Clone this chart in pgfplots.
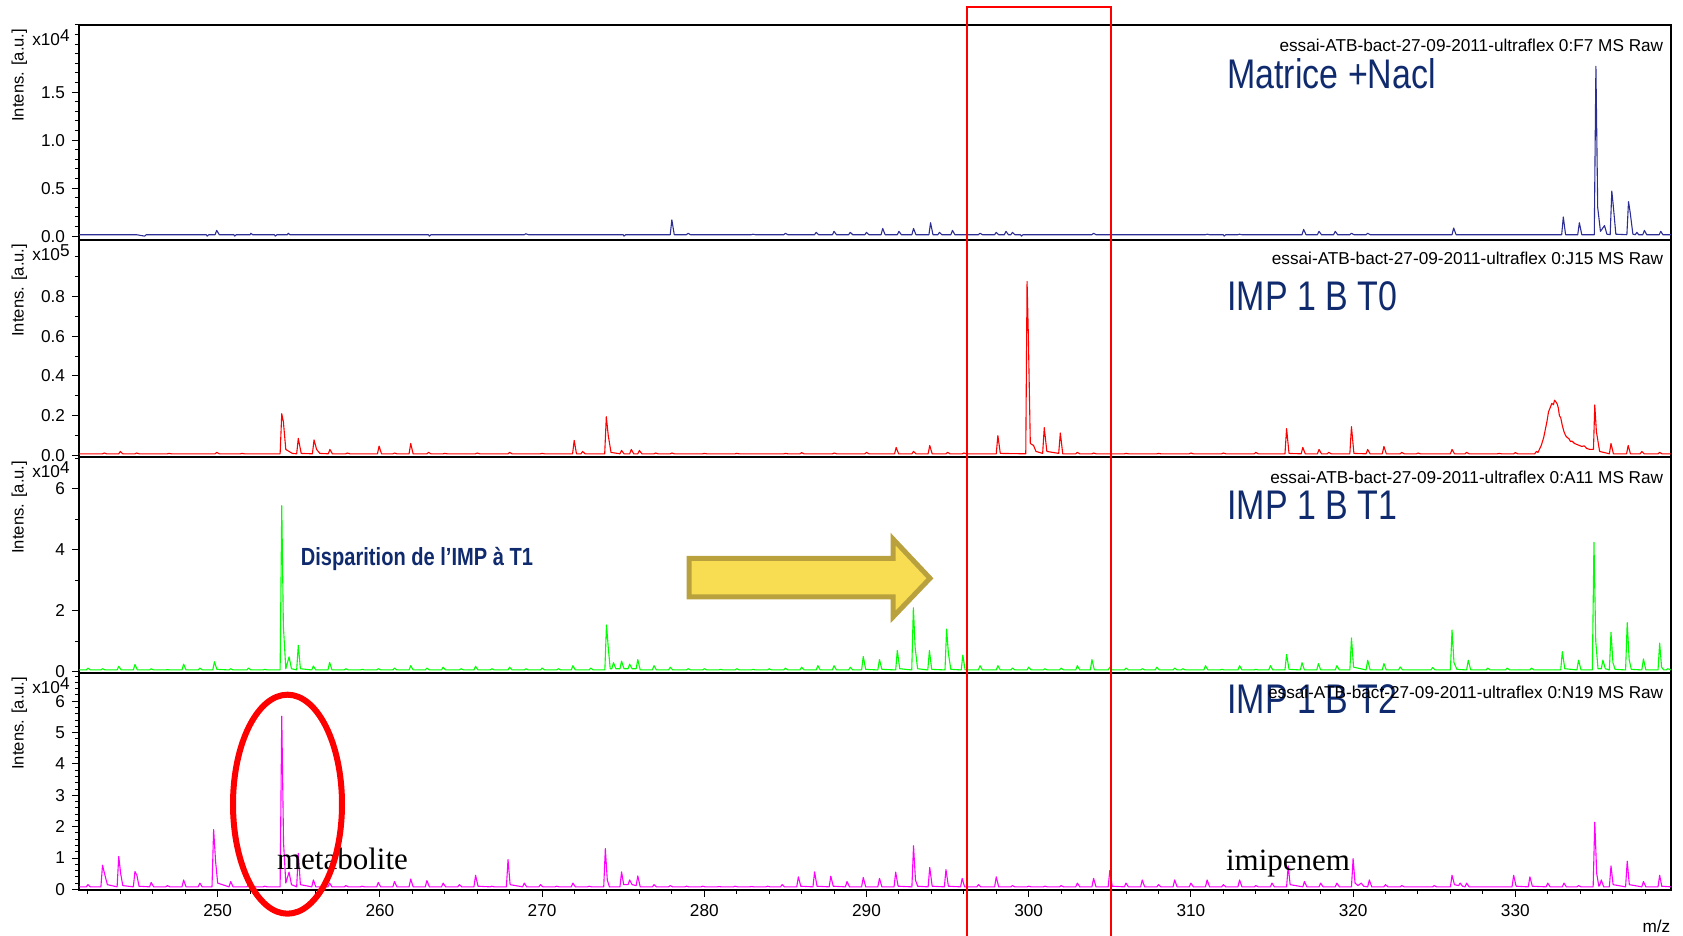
\documentclass[border=0pt]{standalone}
\usepackage{pgfplots}
\pgfplotsset{compat=1.18}
\usepackage{graphicx}
\usepackage{fontspec}
\setmainfont{Liberation Sans}
\newfontfamily\timesfont{Liberation Serif}

\definecolor{navyline}{RGB}{45,45,150}
\definecolor{lblue}{RGB}{16,42,110}
\definecolor{arrowfill}{RGB}{248,220,82}
\definecolor{arrowedge}{RGB}{185,162,62}
\definecolor{specred}{RGB}{255,0,0}
\definecolor{specgreen}{RGB}{0,255,0}
\definecolor{specpink}{RGB}{255,0,255}

\newcommand\tfont{\fontsize{8.6}{10}\selectfont}
\newcommand\panellabel[1]{\scalebox{0.82}[1]{\fontsize{20.7}{22}\selectfont #1}}

\pgfplotsset{
  msaxis/.style={
    scale only axis, width=796pt,
    xmin=241.45, xmax=339.6,
    clip=false,
    axis line style={black, line width=0.7pt},
    tick align=outside,
    ytick pos=left,
    major tick length=3.5pt, minor tick length=2pt,
    tick style={black, line width=0.5pt},
    tick label style={font=\tfont},
    /pgf/number format/assume math mode=true,
    xtick=\empty,
  },
  spec/.style={line width=0.55pt, line join=round, no markers},
}

\begin{document}
\begin{tikzpicture}

% panel 1 : matrice + NaCl (x10^4)
\begin{axis}[msaxis, at={(0,325pt)}, height=107.5pt,
  ymin=-0.04, ymax=2.2, ytick={0,0.5,1,1.5}, minor ytick={0.1,0.2,...,2.2},
  yticklabel style={/pgf/number format/fixed, /pgf/number format/fixed zerofill, /pgf/number format/precision=1}]
\addplot[spec, navyline] coordinates {
(241.45,.015)(245,.015)(245.5,0)(245.6,.015)
(249.3,.015)(249.35,0)(249.45,.015)(249.84,.015)(249.94,.06)(250.1,.015)
(251,.015)(251.05,0)(251.15,.015)(252,.015)(252.05,.03)(252.15,.015)
(253.5,.015)(253.55,0)(253.65,.015)(254.3,.015)(254.35,.03)(254.45,.015)
(263,.015)(263.05,0)(263.15,.015)(268.9,.015)(269,.025)(269.15,.015)
(275,.015)(275.05,0)(275.15,.015)
(277.9,.015)(278,.17)(278.15,.015)(278.9,.015)(279,.03)(279.15,.015)
(282.9,.015)(283,.02)(283.15,.015)(284.9,.015)(285,.03)(285.15,.015)
(286.8,.015)(286.9,.04)(287.05,.015)(287.9,.015)(288,.05)(288.15,.015)
(288.9,.015)(289,.04)(289.15,.015)(289.9,.015)(290,.04)(290.15,.015)
(290.9,.015)(291,.08)(291.15,.015)(291.9,.015)(292,.05)(292.15,.015)
(292.8,.015)(292.9,.08)(293.05,.015)(293.85,.015)(293.95,.14)(294.1,.015)
(294.4,.015)(294.5,.04)(294.65,.015)(295.2,.015)(295.3,.06)(295.45,.015)
(296.9,.015)(297,.03)(297.15,.015)(297.9,.015)(298,.04)(298.15,.015)
(298.5,.015)(298.6,.05)(298.75,.015)(298.9,.015)(299,.04)(299.15,.015)
(299.5,.015)(299.55,0)(299.65,.015)(303.9,.015)(304,.03)(304.15,.015)
(310.9,.015)(311,.02)(311.15,.015)(312,.015)(312.05,0)(312.15,.015)
(312.9,.015)(313,.02)(313.15,.015)
(316.85,.015)(316.95,.07)(317.1,.015)(317.8,.015)(317.9,.05)(318.05,.015)
(318.8,.015)(318.9,.05)(319.05,.015)(319.8,.015)(319.9,.03)(320.05,.015)
(320.8,.015)(320.9,.03)(321.05,.015)(326.1,.015)(326.2,.085)(326.35,.015)
(332.86,.015)(332.96,.2)(333.1,.015)(333.85,.015)(333.95,.14)(334.1,.015)
(334.87,.015)(334.97,1.77)(335.08,.3)(335.25,.05)(335.5,.11)(335.65,.02)
(335.85,.015)(335.95,.47)(336.05,.3)(336.2,.02)
(336.88,.015)(336.98,.36)(337.08,.25)(337.25,.02)
(337.4,.015)(337.5,.04)(337.6,.015)(337.86,.015)(337.96,.06)(338.1,.015)
(338.87,.015)(338.97,.05)(339.1,.015)(339.6,.015)
};
\end{axis}

% panel 2 : IMP 1 B T0 (x10^5)
\begin{axis}[msaxis, at={(0,216.5pt)}, height=108.5pt,
  ymin=-0.008, ymax=1.085, ytick={0,0.2,0.4,0.6,0.8}, minor ytick={0.1,0.3,0.5,0.7,0.9,1.0},
  yticklabel style={/pgf/number format/fixed, /pgf/number format/fixed zerofill, /pgf/number format/precision=1}]
\addplot[spec, specred] coordinates {
(241.45,.008)(242.9,.008)(243,.012)(243.15,.008)(243.9,.008)(244,.02)(244.15,.008)
(244.9,.008)(245,.012)(245.15,.008)(246.9,.008)(247,.01)(247.15,.008)
(249.84,.008)(249.94,.015)(250.1,.008)(251.4,.008)(251.5,.01)(251.65,.008)
(253.85,.008)(253.95,.21)(254.05,.17)(254.2,.03)(254.4,.02)(254.6,.01)
(254.87,.008)(254.97,.086)(255.15,.01)(255.84,.008)(255.94,.078)(256.1,.03)(256.3,.01)
(256.82,.008)(256.92,.03)(257.07,.008)(257.9,.008)(258,.012)(258.15,.008)
(259.85,.008)(259.95,.047)(260.1,.008)(260.8,.008)(260.9,.012)(261.05,.008)
(261.8,.008)(261.9,.06)(262.05,.008)(262.9,.008)(263,.015)(263.15,.008)
(263.9,.008)(264,.01)(264.15,.008)(265.9,.008)(266,.012)(266.15,.008)
(267.9,.008)(268,.015)(268.15,.008)(269.9,.008)(270,.01)(270.15,.008)
(271.88,.008)(271.98,.076)(272.12,.008)(272.4,.008)(272.5,.02)(272.65,.008)
(273.86,.008)(273.96,.195)(274.08,.1)(274.25,.015)
(274.8,.008)(274.9,.025)(275.05,.008)(275.4,.008)(275.5,.03)(275.65,.008)
(275.9,.008)(276,.025)(276.15,.008)(276.9,.008)(277,.012)(277.15,.008)
(277.9,.008)(278,.012)(278.15,.008)(279.9,.008)(280,.01)(280.15,.008)
(281.9,.008)(282,.01)(282.15,.008)(284.9,.008)(285,.01)(285.15,.008)
(285.9,.008)(286,.014)(286.15,.008)(287.9,.008)(288,.012)(288.15,.008)
(289.9,.008)(290,.015)(290.15,.008)(291.73,.008)(291.83,.04)(291.98,.008)
(292.8,.008)(292.9,.02)(293.05,.008)(293.8,.008)(293.9,.05)(294.05,.008)
(294.9,.008)(295,.015)(295.15,.008)(295.9,.008)(296,.012)(296.15,.008)
(298,.008)(298.1,.1)(298.25,.01)
(299.82,.008)(299.9,.876)(299.98,.6)(300.1,.06)(300.3,.05)(300.45,.02)
(300.86,.01)(300.96,.14)(301.12,.02)(301.85,.01)(301.95,.113)(302.1,.008)
(302.9,.008)(303,.015)(303.15,.008)(303.9,.008)(304,.012)(304.15,.008)
(305.9,.008)(306,.01)(306.15,.008)(307.9,.008)(308,.01)(308.15,.008)
(309.9,.008)(310,.012)(310.15,.008)(311.9,.008)(312,.012)(312.15,.008)
(313.9,.008)(314,.015)(314.15,.008)(315.8,.008)(315.9,.135)(316.05,.01)
(316.8,.008)(316.9,.04)(317.05,.008)(317.8,.008)(317.9,.03)(318.05,.008)
(318.4,.008)(318.5,.015)(318.65,.008)(319.8,.008)(319.9,.145)(320.05,.01)
(320.8,.008)(320.9,.03)(321.05,.008)(321.8,.008)(321.9,.045)(322.05,.008)
(322.9,.008)(323,.015)(323.15,.008)(323.9,.008)(324,.012)(324.15,.008)
(326,.008)(326.1,.03)(326.25,.008)(326.9,.008)(327,.015)(327.15,.008)
(328.9,.008)(329,.01)(329.15,.008)(329.9,.008)(330,.014)(330.15,.008)
(331.2,.008)(331.3,.02)(331.4,.015)
(331.6,.05)(331.75,.09)(331.85,.13)(331.95,.17)(332.05,.22)(332.15,.24)(332.25,.262)
(332.35,.255)(332.42,.278)(332.5,.27)(332.58,.26)(332.65,.24)(332.72,.2)(332.8,.19)
(332.9,.15)(333,.12)(333.1,.1)(333.2,.09)(333.3,.085)(333.4,.07)(333.5,.072)
(333.65,.06)(333.8,.055)(333.95,.05)(334.1,.045)(334.25,.048)(334.4,.035)(334.6,.03)(334.82,.03)
(334.9,.254)(335,.12)(335.2,.02)
(335.8,.008)(335.9,.06)(336.05,.008)(336.86,.008)(336.96,.05)(337.1,.008)
(337.7,.008)(337.8,.02)(337.95,.008)(338.8,.008)(338.9,.015)(339.05,.008)(339.6,.008)
};
\end{axis}

% panel 3 : IMP 1 B T1 (x10^4)
\begin{axis}[msaxis, at={(0,108.5pt)}, height=108pt,
  ymin=-0.04, ymax=7.05, ytick={0,2,4,6}, minor ytick={1,3,5,7}]
\addplot[spec, specgreen] coordinates {
(241.45,.06)(241.9,.06)(242,.12)(242.15,.06)(242.8,.06)(242.9,.1)(243.05,.06)
(243.8,.06)(243.9,.18)(244.05,.06)(244.8,.06)(244.9,.24)(245.05,.06)
(245.8,.06)(245.9,.1)(246.05,.06)(246.8,.06)(246.9,.07)(247.05,.06)
(247.8,.06)(247.9,.25)(248.05,.06)(248.8,.06)(248.9,.12)(249.05,.06)
(249.7,.06)(249.8,.33)(249.95,.08)(250.7,.06)(250.8,.1)(250.95,.06)
(251.8,.06)(251.9,.12)(252.05,.06)(252.8,.06)(252.9,.08)(253.05,.06)
(253.85,.06)(253.95,5.45)(254.05,1.5)(254.2,.1)(254.4,.49)(254.55,.1)
(254.87,.06)(254.97,.87)(255.1,.1)(255.8,.06)(255.9,.19)(256.05,.06)
(256.8,.06)(256.9,.31)(257.05,.06)(257.8,.06)(257.9,.1)(258.05,.06)
(258.8,.06)(258.9,.08)(259.05,.06)(259.8,.06)(259.9,.1)(260.05,.06)
(260.8,.06)(260.9,.12)(261.05,.06)(261.8,.06)(261.9,.2)(262.05,.06)
(262.8,.06)(262.9,.12)(263.05,.06)(263.8,.06)(263.9,.15)(264.05,.06)
(264.9,.06)(265,.1)(265.15,.06)(265.8,.06)(265.9,.18)(266.05,.06)
(266.8,.06)(266.9,.1)(267.05,.06)(267.9,.06)(268,.15)(268.15,.06)
(268.9,.06)(269,.1)(269.15,.06)(269.9,.06)(270,.12)(270.15,.06)
(270.9,.06)(271,.1)(271.15,.06)(271.8,.06)(271.9,.2)(272.05,.06)
(272.9,.06)(273,.12)(273.15,.06)
(273.87,.06)(273.97,1.54)(274.08,.8)(274.2,.1)(274.3,.1)(274.4,.3)(274.55,.1)
(274.8,.1)(274.9,.35)(275.05,.1)(275.3,.1)(275.4,.25)(275.55,.1)
(275.8,.1)(275.9,.4)(276.05,.06)(276.8,.06)(276.9,.2)(277.05,.06)
(277.8,.06)(277.9,.15)(278.05,.06)(278.9,.06)(279,.1)(279.15,.06)
(279.9,.06)(280,.1)(280.15,.06)(280.9,.06)(281,.08)(281.15,.06)
(281.9,.06)(282,.1)(282.15,.06)(282.9,.06)(283,.08)(283.15,.06)
(283.9,.06)(284,.1)(284.15,.06)(284.9,.06)(285,.12)(285.15,.06)
(285.9,.06)(286,.15)(286.15,.06)(286.9,.06)(287,.2)(287.15,.06)
(287.9,.06)(288,.2)(288.15,.06)(288.9,.06)(289,.15)(289.15,.06)
(289.7,.06)(289.8,.5)(289.95,.08)(290.7,.06)(290.8,.4)(290.95,.08)
(291.8,.06)(291.9,.7)(292.05,.1)(292.79,.06)(292.89,2.1)(293,.8)(293.15,.1)
(293.78,.06)(293.88,.7)(294.02,.08)(294.84,.06)(294.94,1.4)(295.05,.6)(295.2,.08)
(295.84,.06)(295.94,.55)(296.08,.06)(296.9,.06)(297,.2)(297.15,.06)
(298,.06)(298.1,.2)(298.25,.06)(298.9,.06)(299,.12)(299.15,.06)
(299.9,.06)(300,.15)(300.15,.06)(300.9,.06)(301,.1)(301.15,.06)
(301.9,.06)(302,.12)(302.15,.06)(302.9,.06)(303,.2)(303.15,.06)
(303.8,.06)(303.9,.4)(304.05,.06)(304.9,.06)(305,.15)(305.15,.06)
(305.9,.06)(306,.12)(306.15,.06)(306.9,.06)(307,.1)(307.15,.06)
(307.8,.06)(307.9,.15)(308.05,.06)(308.9,.06)(309,.12)(309.15,.06)
(309.4,.06)(309.5,.1)(309.65,.06)(310.8,.06)(310.9,.2)(311.05,.06)
(311.8,.06)(311.9,.08)(312.05,.06)(312.9,.06)(313,.2)(313.15,.06)
(313.9,.06)(314,.08)(314.15,.06)(314.8,.06)(314.9,.2)(315.05,.06)
(315.8,.06)(315.9,.57)(316.05,.08)(316.75,.06)(316.85,.3)(317,.06)
(317.76,.06)(317.86,.27)(318,.06)(318.9,.06)(319,.2)(319.15,.06)
(319.8,.06)(319.9,1.11)(320.03,.15)(320.8,.06)(320.9,.38)(321.05,.06)
(321.8,.06)(321.9,.27)(322.05,.06)(322.8,.06)(322.9,.16)(323.05,.06)
(324.8,.06)(324.9,.14)(325.05,.06)(326,.06)(326.1,1.37)(326.22,.3)(326.4,.08)
(327,.06)(327.1,.38)(327.25,.06)(328.2,.06)(328.3,.12)(328.45,.06)
(329.4,.06)(329.5,.12)(329.65,.06)(330.9,.06)(331,.12)(331.15,.06)
(332.8,.06)(332.9,.66)(333.05,.1)(333.8,.06)(333.9,.38)(334.05,.06)
(334.75,.06)(334.85,4.25)(334.96,1.0)(335.1,.1)(335.3,.1)(335.4,.38)(335.55,.1)
(335.8,.06)(335.9,1.3)(336.02,.3)(336.15,.08)(336.8,.06)(336.9,1.61)(337.02,.4)(337.15,.08)
(337.8,.06)(337.9,.42)(338.05,.06)(338.8,.06)(338.9,.94)(339.02,.15)(339.15,.06)
(339.3,.06)(339.4,.1)(339.6,.06)
};
\end{axis}

% panel 4 : IMP 1 B T2 (x10^4)
\begin{axis}[msaxis, at={(0,0)}, height=108.5pt,
  ymin=-0.02, ymax=6.9, ytick={0,1,2,3,4,5,6}, minor ytick={0.2,0.4,...,6.8},
  xtick={250,260,...,330}, minor xtick={242,244,...,338}, xtick pos=bottom,
  xticklabel style={/pgf/number format/1000 sep={}}]
\addplot[spec, specpink] coordinates {
(241.45,.08)(241.9,.08)(242,.15)(242.15,.08)
(242.8,.08)(242.9,.77)(243.05,.45)(243.2,.15)(243.8,.08)(243.9,1.05)(244.02,.5)(244.15,.12)
(244.8,.08)(244.9,.57)(245.02,.45)(245.15,.1)(245.8,.08)(245.9,.22)(246.05,.08)
(246.8,.08)(246.9,.12)(247.05,.08)(247.8,.08)(247.9,.3)(248.05,.08)
(248.8,.08)(248.9,.2)(249.05,.08)(249.65,.08)(249.75,1.91)(249.87,.9)(250,.2)
(250.7,.08)(250.8,.25)(250.95,.08)(251.8,.08)(251.9,.15)(252.05,.08)
(252.8,.08)(252.9,.1)(253.05,.08)
(253.85,.08)(253.95,5.52)(254.06,1.5)(254.2,.2)(254.4,.55)(254.55,.15)
(254.87,.08)(254.97,1.15)(255.1,.15)(255.8,.08)(255.9,.3)(256.05,.08)
(256.8,.08)(256.9,.2)(257.05,.08)(257.8,.08)(257.9,.12)(258.05,.08)
(258.8,.08)(258.9,.1)(259.05,.08)(259.8,.08)(259.9,.22)(260.05,.08)
(260.8,.08)(260.9,.25)(261.05,.08)(261.8,.08)(261.9,.33)(262.05,.08)
(262.8,.08)(262.9,.28)(263.05,.08)(263.8,.08)(263.9,.2)(264.05,.08)
(264.8,.08)(264.9,.15)(265.05,.08)(265.8,.08)(265.9,.45)(266.05,.1)
(266.8,.08)(266.9,.1)(267.05,.08)(267.8,.08)(267.9,.95)(268.03,.15)
(268.8,.08)(268.9,.2)(269.05,.08)(269.8,.08)(269.9,.15)(270.05,.08)
(270.8,.08)(270.9,.1)(271.05,.08)(271.8,.08)(271.9,.2)(272.05,.08)
(272.8,.08)(272.9,.1)(273.05,.08)(273.8,.08)(273.9,1.3)(274.02,.3)(274.15,.08)
(274.8,.08)(274.9,.56)(275.03,.15)(275.3,.15)(275.4,.3)(275.55,.15)
(275.8,.12)(275.9,.43)(276.05,.08)(276.8,.08)(276.9,.15)(277.05,.08)
(277.8,.08)(277.9,.12)(278.05,.08)(278.8,.08)(278.9,.1)(279.05,.08)
(279.8,.08)(279.9,.1)(280.05,.08)(280.8,.08)(280.9,.09)(281.05,.08)
(281.8,.08)(281.9,.1)(282.05,.08)(282.8,.08)(282.9,.09)(283.05,.08)
(283.8,.08)(283.9,.1)(284.05,.08)(284.7,.08)(284.8,.15)(284.95,.08)
(285.7,.08)(285.8,.4)(285.95,.1)(286.7,.08)(286.8,.56)(286.95,.1)
(287.7,.08)(287.8,.42)(287.95,.1)(288.7,.08)(288.8,.25)(288.95,.08)
(289.7,.08)(289.8,.38)(289.95,.08)(290.7,.08)(290.8,.35)(290.95,.08)
(291.7,.08)(291.8,.55)(291.95,.1)(292.8,.08)(292.9,1.39)(293.02,.3)(293.15,.1)
(293.8,.08)(293.9,.7)(294.05,.1)(294.8,.08)(294.9,.63)(295.05,.1)
(295.8,.08)(295.9,.35)(296.05,.08)(296.8,.08)(296.9,.15)(297.05,.08)
(297.9,.08)(298,.4)(298.15,.08)(298.9,.08)(299,.12)(299.15,.08)
(299.9,.08)(300,.1)(300.15,.08)(300.9,.08)(301,.1)(301.15,.08)
(301.9,.08)(302,.12)(302.15,.08)(302.9,.08)(303,.2)(303.15,.08)
(303.9,.08)(304,.35)(304.15,.08)(304.9,.08)(305,.6)(305.15,.1)
(305.9,.08)(306,.2)(306.15,.08)(306.9,.08)(307,.3)(307.15,.08)
(307.9,.08)(308,.15)(308.15,.08)(308.9,.08)(309,.3)(309.15,.08)
(309.9,.08)(310,.2)(310.15,.08)(310.9,.08)(311,.3)(311.15,.08)
(311.9,.08)(312,.15)(312.15,.08)(312.9,.08)(313,.3)(313.15,.08)
(313.9,.08)(314,.12)(314.15,.08)(314.9,.08)(315,.2)(315.15,.08)
(315.9,.08)(316,.75)(316.12,.15)(316.9,.08)(317,.25)(317.15,.08)
(317.9,.08)(318,.2)(318.15,.08)(318.9,.08)(319,.2)(319.15,.08)
(319.9,.08)(320,.98)(320.12,.2)(320.3,.12)(320.5,.2)(320.65,.1)
(320.9,.08)(321,.3)(321.15,.08)(321.9,.08)(322,.15)(322.15,.08)
(322.9,.08)(323,.12)(323.15,.08)(324.9,.08)(325,.12)(325.15,.08)
(326,.08)(326.1,.45)(326.25,.15)(326.5,.12)(326.6,.2)(326.75,.1)
(326.9,.08)(327,.2)(327.15,.08)(329.8,.08)(329.9,.45)(330.05,.1)
(330.8,.08)(330.9,.4)(331.05,.1)(331.9,.08)(332,.2)(332.15,.08)
(332.9,.08)(333,.2)(333.15,.08)(333.8,.08)(333.9,.12)(334.05,.08)
(334.8,.08)(334.9,2.14)(335.02,.5)(335.15,.1)(335.2,.12)(335.3,.3)(335.45,.08)
(335.8,.08)(335.9,.75)(336.03,.15)(336.8,.08)(336.9,.9)(337.03,.15)
(337.8,.08)(337.9,.25)(338.05,.08)(338.8,.08)(338.9,.45)(339.03,.1)(339.6,.08)
};
\end{axis}

% labels around the panels
\begin{scope}[every node/.style={inner sep=0pt}]
\node[anchor=north east, font=\tfont] at (-4.5pt,430.5pt) {x10\raisebox{2pt}{4}};
\node[anchor=north east, font=\tfont] at (-4.5pt,323pt) {x10\raisebox{2pt}{5}};
\node[anchor=north east, font=\tfont] at (-4.5pt,214.5pt) {x10\raisebox{2pt}{4}};
\node[anchor=north east, font=\tfont] at (-4.5pt,106.5pt) {x10\raisebox{2pt}{4}};

\node[rotate=90, anchor=east, font=\fontsize{8.3}{10}\selectfont] at (-29.85pt,430.8pt) {Intens. [a.u.]};
\node[rotate=90, anchor=east, font=\fontsize{8.3}{10}\selectfont] at (-29.85pt,323.3pt) {Intens. [a.u.]};
\node[rotate=90, anchor=east, font=\fontsize{8.3}{10}\selectfont] at (-29.85pt,214.8pt) {Intens. [a.u.]};
\node[rotate=90, anchor=east, font=\fontsize{8.3}{10}\selectfont] at (-29.85pt,106.8pt) {Intens. [a.u.]};

\node[anchor=north east, font=\tfont] at (792.3pt,425.5pt) {essai-ATB-bact-27-09-2011-ultraflex 0:F7 MS Raw};
\node[anchor=north east, font=\tfont] at (792.3pt,319.3pt) {essai-ATB-bact-27-09-2011-ultraflex 0:J15 MS Raw};
\node[anchor=north east, font=\tfont] at (792.3pt,209.5pt) {essai-ATB-bact-27-09-2011-ultraflex 0:A11 MS Raw};

\node[anchor=base west, text=lblue] at (574pt,400.5pt) {\panellabel{Matrice +Nacl}};
\node[anchor=base west, text=lblue] at (574pt,289.5pt) {\panellabel{IMP 1 B T0}};
\node[anchor=base west, text=lblue] at (574pt,185pt) {\panellabel{IMP 1 B T1}};
\node[anchor=base west, text=lblue] at (574pt,88pt) {\panellabel{IMP 1 B T2}};
\node[anchor=north east, font=\tfont] at (792.3pt,102pt) {essai-ATB-bact-27-09-2011-ultraflex 0:N19 MS Raw};

\node[anchor=base west, text=lblue] at (110.75pt,162.15pt)
  {\scalebox{0.81}[1]{\fontsize{12.4}{14}\selectfont\bfseries Disparition de l’IMP à T1}};

\node[anchor=base west, font=\timesfont\fontsize{15.5}{17}\selectfont] at (98.85pt,10.35pt) {metabolite};
\node[anchor=base west, font=\timesfont\fontsize{15.5}{17}\selectfont] at (573.35pt,9.5pt) {imipenem};
\node[anchor=base east, font=\tfont] at (795.85pt,-21.5pt) {m/z};
\end{scope}

% highlights
\draw[arrowedge, fill=arrowfill, line width=2.5pt, line join=miter]
  (305pt,165.75pt) -- (407pt,165.75pt) -- (407pt,175.5pt) -- (425.5pt,155.85pt)
  -- (407pt,136.5pt) -- (407pt,146.5pt) -- (305pt,146.5pt) -- cycle;
\draw[red, line width=1pt] (443.85pt,-24pt) rectangle (515.85pt,441.25pt);
\draw[red, line width=3pt] (104.25pt,42.9pt) ellipse [x radius=27.25pt, y radius=54.75pt];

\pgfresetboundingbox
\useasboundingbox (-39.5pt,-23pt) rectangle (802pt,445pt);
\end{tikzpicture}
\end{document}
